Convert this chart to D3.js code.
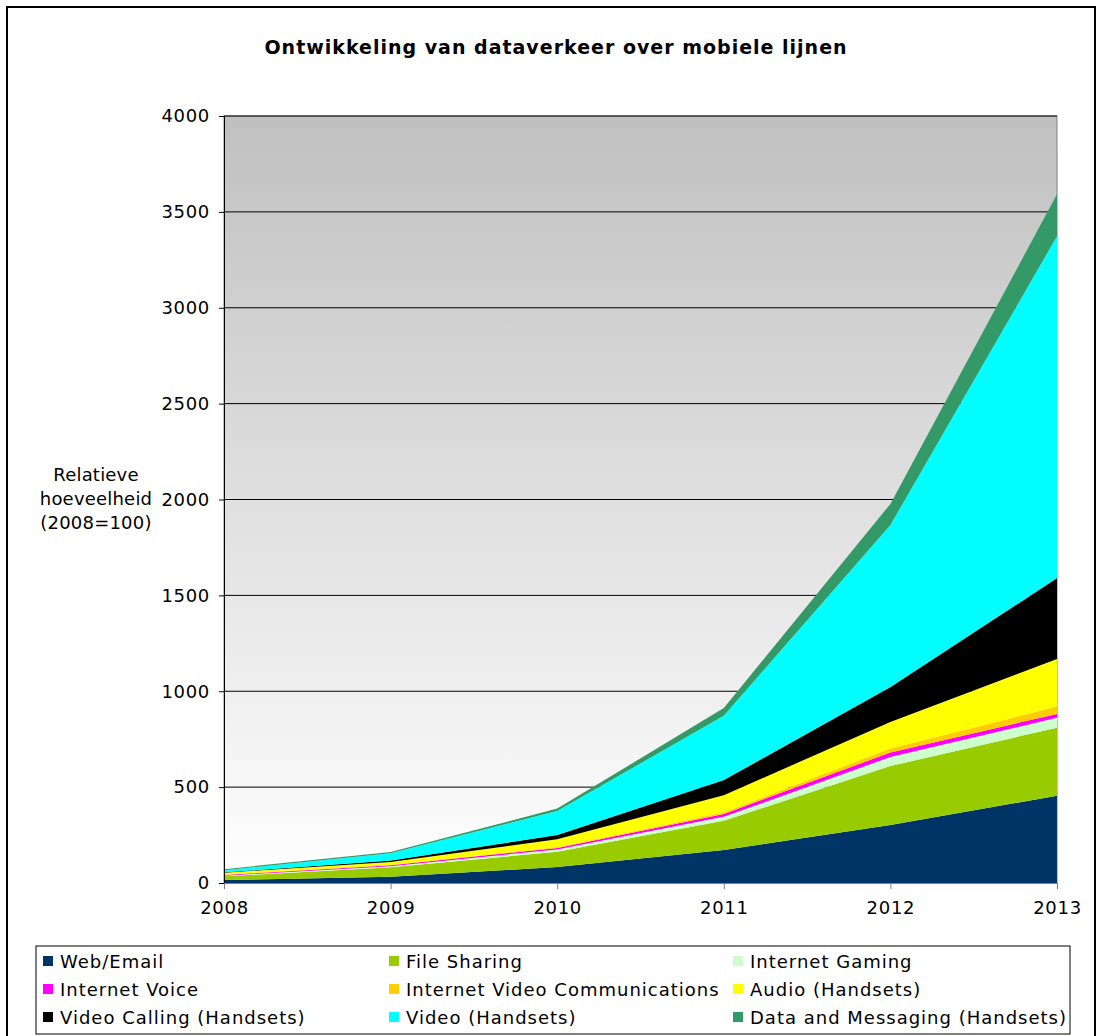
<!DOCTYPE html>
<html><head><meta charset="utf-8">
<script src="https://cdn.jsdelivr.net/npm/d3@7"></script>
<style>
body{margin:0;background:#fff;}
text{font-family:"DejaVu Sans",Verdana,sans-serif;}
</style></head>
<body>
<svg id="chart" width="1101" height="1036"></svg>
<script>
const years = [2008, 2009, 2010, 2011, 2012, 2013];
const seriesNames = ["Web/Email","File Sharing","Internet Gaming","Internet Voice","Internet Video Communications","Audio (Handsets)","Video Calling (Handsets)","Video (Handsets)","Data and Messaging (Handsets)"];
const seriesColors = ["#003366","#99cc00","#ccffcc","#ff00ff","#ffcc00","#ffff00","#000000","#00ffff","#339966"];
const webEmail = [15, 33, 83, 172, 302, 455];
const fileSharing = [20, 49, 80, 153, 308, 355];
const internetGaming = [3, 6, 12, 20, 47, 52];
const internetVoice = [4, 5, 8, 15, 24, 20];
const internetVideoComm = [2, 2, 4, 8, 21, 38];
const audioHandsets = [10, 15, 41, 90, 138, 248];
const videoCalling = [2, 7, 22, 79, 182, 422];
const videoHandsets = [10, 38, 125, 335, 845, 1784];
const dataMessaging = [6, 7, 13, 40, 110, 218];
const yTicks = [0, 500, 1000, 1500, 2000, 2500, 3000, 3500, 4000];
const title = "Ontwikkeling van dataverkeer over mobiele lijnen";
const yTitle = ["Relatieve", "hoeveelheid", "(2008=100)"];

const allSeries = [webEmail, fileSharing, internetGaming, internetVoice, internetVideoComm, audioHandsets, videoCalling, videoHandsets, dataMessaging];
const table = years.map((y, i) => {
  const row = {year: y};
  seriesNames.forEach((n, k) => row[n] = allSeries[k][i]);
  return row;
});

const svg = d3.select("#chart");
const L = 224, R = 1057, T = 116, B = 883;

// outer border
svg.append("rect").attr("x", 7).attr("y", 7).attr("width", 1088).attr("height", 1060)
  .attr("fill", "#fff").attr("stroke", "#000").attr("stroke-width", 2);

const defs = svg.append("defs");
const grad = defs.append("linearGradient").attr("id", "bg").attr("x1", 0).attr("y1", 0).attr("x2", 0).attr("y2", 1);
grad.append("stop").attr("offset", "0%").attr("stop-color", "#c0c0c0");
grad.append("stop").attr("offset", "100%").attr("stop-color", "#ffffff");

const x = d3.scalePoint().domain(years).range([L, R]);
const y = d3.scaleLinear().domain([0, 4000]).range([B, T]);

svg.append("rect").attr("x", L).attr("y", T).attr("width", R - L).attr("height", B - T)
  .attr("fill", "url(#bg)").attr("stroke", "#808080").attr("stroke-width", 1);

// gridlines
svg.append("g").selectAll("line").data(yTicks.filter(t => t > 0)).join("line")
  .attr("x1", L).attr("x2", R).attr("y1", d => y(d)).attr("y2", d => y(d))
  .attr("stroke", "#000").attr("stroke-width", 1);

const stack = d3.stack().keys(seriesNames);
const stacked = stack(table);
const area = d3.area().x(d => x(d.data.year)).y0(d => y(d[0])).y1(d => y(d[1]));

svg.append("g").selectAll("path").data(stacked).join("path")
  .attr("d", area).attr("fill", (d, i) => seriesColors[i]);

// axes
const yAxis = d3.axisLeft(y).tickValues(yTicks).tickSize(5).tickPadding(9).tickFormat(d3.format("d"));
const gy = svg.append("g").attr("transform", `translate(${L},0)`).call(yAxis);
gy.select(".domain").attr("stroke", "#000");
gy.selectAll("text").attr("font-size", "18px").attr("fill", "#000").attr("letter-spacing", "0.7px")
  .attr("font-family", "DejaVu Sans, Verdana, sans-serif");

const xAxis = d3.axisBottom(x).tickSize(6).tickPadding(12).tickFormat(d3.format("d"));
const gx = svg.append("g").attr("transform", `translate(0,${B})`).call(xAxis);
gx.select(".domain").attr("stroke", "#808080");
gx.selectAll(".tick line").attr("stroke", "#808080");
gx.selectAll("text").attr("font-size", "18px").attr("fill", "#000").attr("letter-spacing", "0.7px")
  .attr("font-family", "DejaVu Sans, Verdana, sans-serif");

// title
svg.append("text").attr("x", 556).attr("y", 54).attr("text-anchor", "middle")
  .attr("font-size", "19px").attr("font-weight", "bold").attr("letter-spacing", "1px").text(title);

// y title
svg.append("g").selectAll("text").data(yTitle).join("text")
  .attr("x", 96).attr("y", (d, i) => 481 + i * 24).attr("text-anchor", "middle")
  .attr("font-size", "18px").attr("letter-spacing", "0.2px").text(d => d);

// legend
const lg = svg.append("g");
lg.append("rect").attr("x", 36).attr("y", 946).attr("width", 1034).attr("height", 88)
  .attr("fill", "#fff").attr("stroke", "#000").attr("stroke-width", 1);
const colX = [43, 389, 733];
const rowY = [961, 989, 1017];
const items = lg.selectAll("g").data(seriesNames).join("g")
  .attr("transform", (d, i) => `translate(${colX[i % 3]},${rowY[Math.floor(i / 3)]})`);
items.append("rect").attr("x", 0).attr("y", -5).attr("width", 10).attr("height", 10)
  .attr("fill", (d, i) => seriesColors[i]);
items.append("text").attr("x", 17).attr("y", 7).attr("font-size", "18px").attr("letter-spacing", "1px").text(d => d);
</script>
</body></html>
